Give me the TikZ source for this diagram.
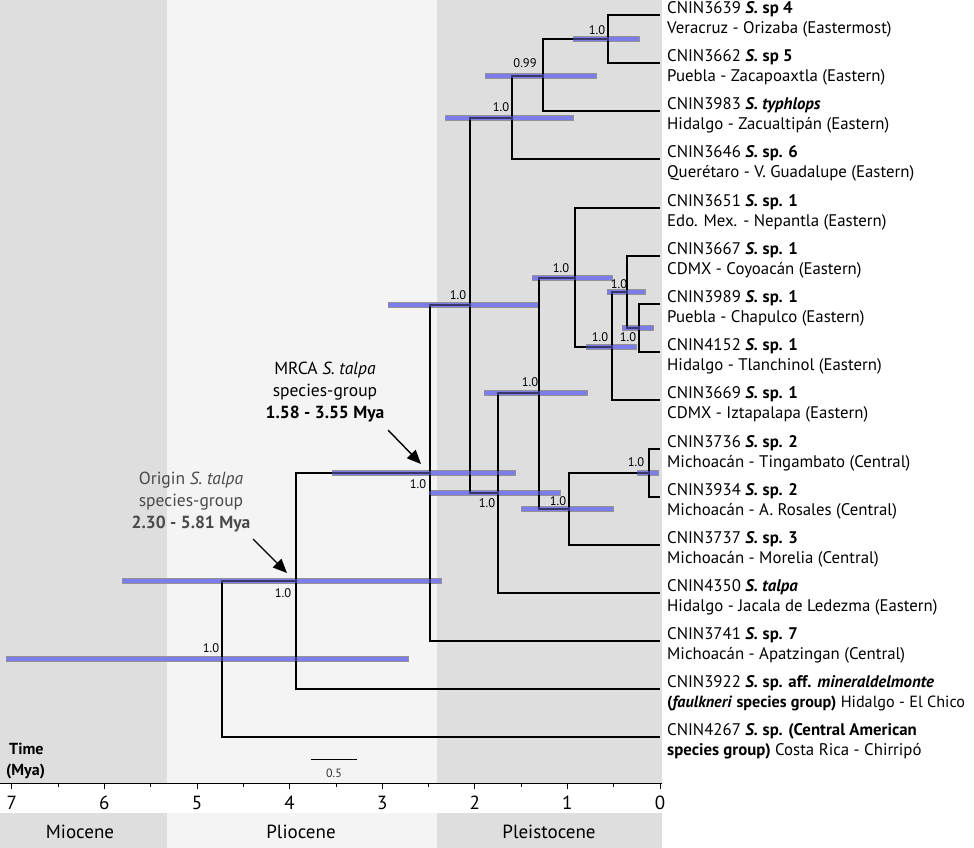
\documentclass[tikz,border=0pt]{standalone}
\usepackage{fontspec}
\setmainfont{PT Sans}
\usetikzlibrary{arrows.meta}
\definecolor{bggray}{HTML}{DEDEDE}
\definecolor{bglight}{HTML}{F4F4F4}
\definecolor{barblue}{HTML}{7C7CEA}
\definecolor{txtgray}{HTML}{4A4A4A}
\newcommand{\sbi}[1]{\textbf{\textit{#1}}}
\begin{document}
\begin{tikzpicture}[x=1pt,y=-1pt,
  branch/.style={line width=2pt, black},
  hpd/.style={fill=barblue, draw=gray!85, line width=0.7pt},
  hpdtop/.style={fill=barblue, fill opacity=0.45},
  post/.style={font=\fontsize{12.5}{12.5}\selectfont, inner sep=0pt},
  tiplab/.style={anchor=west, align=left, inner sep=0pt, font=\fontsize{16.8}{20}\selectfont},
  anno/.style={align=center, inner sep=0pt, font=\fontsize{17.5}{22}\selectfont},
  arrowst/.style={line width=1.4pt, -{Triangle[length=14pt,width=12pt]}},
  ticklab/.style={font=\fontsize{19}{19}\selectfont, inner sep=0pt},
  epochlab/.style={font=\fontsize{19}{19}\selectfont, inner sep=0pt}]
\useasboundingbox (0,0) rectangle (974,848);
% backgrounds
\fill[white] (0,0) rectangle (974,848);
\fill[bggray] (0,0) rectangle (167,783);
\fill[bglight] (167,0) rectangle (437,783);
\fill[bggray] (437,0) rectangle (662,783);
\fill[bggray] (0,813) rectangle (167,848);
\fill[bglight] (167,813) rectangle (437,848);
\fill[bggray] (437,813) rectangle (662,848);
% axis
\draw[line width=1pt] (0,783) -- (662,783);
\foreach \t in {0,...,7} {
  \draw[line width=0.8pt] ({660-92.6*\t},783) -- ({660-92.6*\t},789);
  \node[ticklab] at ({660-92.6*\t},803) {\t};
}
\foreach \t in {0.5,1.5,...,6.5} {
  \draw[line width=0.8pt] ({660-92.6*\t},783) -- ({660-92.6*\t},787);
}
\node[epochlab] (mio) at (80,832) {Miocene};
\node[epochlab] (plio) at (301,832) {Pliocene};
\node[epochlab] (pleis) at (549,832) {Pleistocene};
\node[anchor=west, inner sep=0pt, font=\fontsize{16}{16}\selectfont\bfseries] (time1) at (9,749) {Time};
\node[anchor=west, inner sep=0pt, font=\fontsize{16}{16}\selectfont\bfseries] (time2) at (6,772) {(Mya)};
\coordinate (sbA) at (311,759);
\coordinate (sbB) at (357,759);
\draw[line width=1pt] (sbA) -- (sbB);
\node[inner sep=0pt, font=\fontsize{12}{12}\selectfont, text=black!80] (sbl) at (334,773) {0.5};
% tips
\foreach \i/\y in {1/15,2/63,3/111,4/159,5/208,6/256,7/304,8/352,9/400,10/449,11/497,12/545,13/593,14/641,15/689,16/737} {
  \coordinate (t\i) at (660,\y);
}
% internal nodes
\coordinate (A) at (608,39);
\coordinate (B) at (543,76);
\coordinate (C) at (512,118);
\coordinate (L) at (639,328);
\coordinate (K) at (627,292);
\coordinate (J) at (612,347);
\coordinate (I) at (575,278);
\coordinate (N) at (649,473);
\coordinate (M) at (569,509);
\coordinate (H) at (539,393);
\coordinate (G) at (498,493);
\coordinate (D) at (470,305);
\coordinate (E) at (430,473);
\coordinate (O) at (296,581);
\coordinate (P) at (222,659);
% HPD bars (base)
\foreach \a/\b/\y in {573/639/39,485/596/76,445/573/118,388/538/305,532/612/278,586/636/347,607/645/292,622/653/328,484/587/393,521/613/509,637/658/473,429/560/493,332/515/473,122/441/581,6/408/659} {
  \draw[hpd] (\a,\y-2.8) rectangle (\b,\y+2.8);
}
% branches
\foreach \p/\c in {A/t1,A/t2,B/A,B/t3,C/B,C/t4,L/t7,L/t8,K/t6,K/L,J/K,J/t9,I/t5,I/J,N/t10,N/t11,M/N,M/t12,H/I,H/M,G/H,G/t13,D/C,D/G,E/D,E/t14,O/E,O/t15,P/O,P/t16} {
  \draw[branch] (\p) |- (\c);
}
% HPD bars (translucent overlay, tints branches navy)
\foreach \a/\b/\y in {573/639/39,485/596/76,445/573/118,388/538/305,532/612/278,586/636/347,607/645/292,622/653/328,484/587/393,521/613/509,637/658/473,429/560/493,332/515/473,122/441/581,6/408/659} {
  \fill[hpdtop] (\a+0.4,\y-2.4) rectangle (\b-0.4,\y+2.4);
}
% posterior labels
\node[post] (pA) at (597,30) {1.0};
\node[post] (pB) at (525,63) {0.99};
\node[post] (pC) at (501,107) {1.0};
\node[post] (pD) at (458,295) {1.0};
\node[post] (pI) at (561,268) {1.0};
\node[post] (pK) at (619,284) {1.0};
\node[post] (pJ) at (600,337) {1.0};
\node[post] (pL) at (628,337) {1.0};
\node[post] (pH) at (530,382) {1.0};
\node[post] (pG) at (487,503) {1.0};
\node[post] (pM) at (558,501) {1.0};
\node[post] (pN) at (636,462) {1.0};
\node[post] (pE) at (418,484) {1.0};
\node[post] (pO) at (283,593) {1.0};
\node[post] (pP) at (211,648) {1.0};
% tip labels
\node[tiplab] (l1) at (667,19) {CNIN3639 \sbi{S.} \textbf{sp 4}\\Veracruz - Orizaba (Eastermost)};
\node[tiplab] (l2) at (667,67) {CNIN3662 \sbi{S.} \textbf{sp 5}\\Puebla - Zacapoaxtla (Eastern)};
\node[tiplab] (l3) at (667,115) {CNIN3983 \sbi{S. typhlops}\\Hidalgo - Zacualtipán (Eastern)};
\node[tiplab] (l4) at (667,163) {CNIN3646 \sbi{S.} \textbf{sp. 6}\\Querétaro - V. Guadalupe (Eastern)};
\node[tiplab] (l5) at (667,212) {CNIN3651 \sbi{S.} \textbf{sp. 1}\\Edo. Mex. - Nepantla (Eastern)};
\node[tiplab] (l6) at (667,260) {CNIN3667 \sbi{S.} \textbf{sp. 1}\\CDMX - Coyoacán (Eastern)};
\node[tiplab] (l7) at (667,308) {CNIN3989 \sbi{S.} \textbf{sp. 1}\\Puebla - Chapulco (Eastern)};
\node[tiplab] (l8) at (667,356) {CNIN4152 \sbi{S.} \textbf{sp. 1}\\Hidalgo - Tlanchinol (Eastern)};
\node[tiplab] (l9) at (667,404) {CNIN3669 \sbi{S.} \textbf{sp. 1}\\CDMX - Iztapalapa (Eastern)};
\node[tiplab] (l10) at (667,453) {CNIN3736 \sbi{S.} \textbf{sp. 2}\\Michoacán - Tingambato (Central)};
\node[tiplab] (l11) at (667,501) {CNIN3934 \sbi{S.} \textbf{sp. 2}\\Michoacán - A. Rosales (Central)};
\node[tiplab] (l12) at (667,549) {CNIN3737 \sbi{S.} \textbf{sp. 3}\\Michoacán - Morelia (Central)};
\node[tiplab] (l13) at (667,597) {CNIN4350 \sbi{S. talpa}\\Hidalgo - Jacala de Ledezma (Eastern)};
\node[tiplab] (l14) at (667,645) {CNIN3741 \sbi{S.} \textbf{sp. 7}\\Michoacán - Apatzingan (Central)};
\node[tiplab] (l15) at (667,693) {CNIN3922 \sbi{S.} \textbf{sp. aff.} \sbi{mineraldelmonte}\\{\fontsize{16.2}{20}\selectfont\textbf{(}\sbi{faulkneri} \textbf{species group)} Hidalgo - El Chico}};
\node[tiplab] (l16) at (667,741) {CNIN4267 \sbi{S.} \textbf{sp. (Central American}\\\textbf{species group)} Costa Rica - Chirripó};
% annotations
\node[anno] (mrca) at (325,392) {MRCA \textit{S. talpa}\\species-group\\\textbf{1.58 - 3.55 Mya}};
\node[anno, text=txtgray] (orig) at (191,502) {Origin \textit{S. talpa}\\species-group\\\textbf{2.30 - 5.81 Mya}};
\coordinate (mrcaS) at (388,430);
\coordinate (mrcaT) at (421,464);
\draw[arrowst] (mrcaS) -- (mrcaT);
\coordinate (origS) at (253,539);
\coordinate (origT) at (287,573);
\draw[arrowst] (origS) -- (origT);
\end{tikzpicture}
\end{document}
